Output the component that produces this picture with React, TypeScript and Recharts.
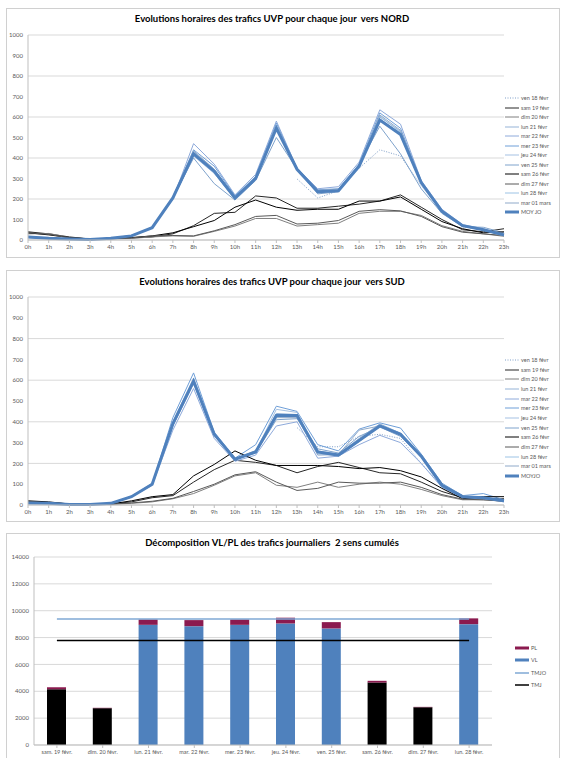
import React from "react";
import { LineChart, Line, XAxis, YAxis, CartesianGrid, ComposedChart, Bar, Cell } from "recharts";

const HOURS = ["0h", "1h", "2h", "3h", "4h", "5h", "6h", "7h", "8h", "9h", "10h", "11h", "12h", "13h", "14h", "15h", "16h", "17h", "18h", "19h", "20h", "21h", "22h", "23h"];

const SERIES_KEYS = ["ven18", "sam19", "dim20", "lun21", "mar22", "mer23", "jeu24", "ven25", "sam26", "dim27", "lun28", "mar01", "moy"];
const SERIES_LABELS = ["ven 18 févr", "sam 19 févr", "dim 20 févr", "lun 21 févr", "mar 22 févr", "mer 23 févr", "jeu 24 févr", "ven 25 févr", "sam 26 févr", "dim 27 févr", "lun 28 févr", "mar 01 mars", "MOY JO"];
const SERIES_COLORS = ["#7f9fc8", "#262626", "#7f7f7f", "#95b3d7", "#8eaadb", "#6f9fd8", "#a5c1e3", "#7fa3cc", "#000000", "#595959", "#9cc3e5", "#8fa9c9", "#4f81bd"];

// vers NORD
const N_VEN18 = [null, null, null, null, null, null, null, null, null, null, null, null, null, 298, 205, 240, 350, 440, 410, 265, 140, 65, 50, 25];
const N_SAM19 = [40, 30, 15, 5, 8, 10, 15, 30, 70, 130, 135, 215, 205, 155, 155, 165, 175, 190, 220, 160, 100, 50, 40, 55];
const N_DIM20 = [30, 32, 12, 5, 5, 8, 15, 20, 18, 42, 68, 105, 105, 68, 75, 82, 130, 140, 140, 120, 70, 42, 30, 18];
const N_LUN21 = [12, 6, 4, 3, 8, 22, 62, 210, 430, 345, 210, 305, 550, 345, 240, 245, 365, 600, 530, 285, 140, 72, 48, 22];
const N_MAR22 = [14, 7, 5, 3, 9, 20, 58, 200, 470, 370, 220, 320, 580, 350, 250, 260, 380, 635, 565, 290, 150, 75, 55, 25];
const N_MER23 = [16, 8, 5, 3, 8, 18, 60, 205, 440, 360, 215, 310, 570, 348, 245, 250, 370, 620, 545, 285, 145, 72, 52, 28];
const N_JEU24 = [15, 9, 5, 4, 8, 20, 62, 200, 410, 325, 200, 295, 540, 342, 230, 240, 355, 590, 520, 280, 138, 70, 50, 24];
const N_VEN25 = [18, 10, 6, 3, 7, 20, 60, 205, 400, 275, 195, 290, 500, 345, 225, 235, 370, 555, 420, 250, 130, 65, 62, 35];
const N_SAM26 = [35, 25, 12, 5, 8, 12, 20, 35, 65, 95, 160, 195, 160, 145, 150, 150, 190, 190, 210, 150, 90, 55, 35, 40];
const N_DIM27 = [35, 28, 10, 5, 6, 10, 20, 22, 20, 45, 75, 115, 120, 78, 82, 95, 140, 148, 142, 115, 65, 38, 30, 22];
const N_LUN28 = [14, 8, 5, 3, 8, 21, 58, 205, 425, 340, 205, 300, 550, 345, 240, 245, 360, 605, 525, 275, 140, 70, 50, 22];
const N_MAR01 = [15, 8, 4, 3, 9, 22, 60, 210, 435, 345, 210, 305, 560, 348, 242, 248, 362, 610, 535, 282, 142, 70, 48, 20];
const N_MOY = [15, 8, 5, 3, 8, 20, 60, 205, 420, 335, 205, 300, 545, 345, 235, 240, 360, 585, 515, 280, 140, 70, 50, 25];

// vers SUD
const S_VEN18 = [null, null, null, null, null, null, null, null, null, null, null, null, null, 372, 280, 280, 330, 340, 320, 200, 90, 40, 35, 20];
const S_SAM19 = [15, 12, 5, 3, 5, 15, 35, 45, 110, 170, 215, 205, 190, 155, 185, 205, 180, 155, 150, 110, 65, 35, 30, 30];
const S_DIM20 = [12, 10, 4, 3, 3, 8, 15, 30, 55, 95, 140, 155, 95, 85, 110, 85, 100, 110, 100, 75, 45, 25, 25, 20];
const S_LUN21 = [10, 8, 3, 2, 8, 42, 105, 400, 610, 345, 215, 260, 440, 435, 260, 245, 320, 390, 345, 240, 98, 42, 35, 20];
const S_MAR22 = [8, 7, 3, 2, 7, 38, 95, 360, 560, 320, 210, 240, 380, 400, 225, 235, 290, 335, 300, 200, 85, 35, 30, 15];
const S_MER23 = [11, 8, 3, 2, 8, 40, 100, 420, 635, 350, 225, 290, 475, 450, 290, 260, 365, 395, 370, 245, 105, 45, 55, 25];
const S_JEU24 = [10, 9, 4, 2, 8, 40, 100, 390, 600, 340, 220, 255, 460, 445, 245, 240, 305, 380, 340, 235, 95, 42, 35, 20];
const S_VEN25 = [12, 8, 3, 3, 9, 42, 102, 380, 585, 335, 218, 250, 410, 415, 270, 250, 330, 375, 330, 230, 92, 38, 38, 22];
const S_SAM26 = [20, 15, 5, 3, 5, 20, 40, 50, 140, 195, 260, 215, 190, 190, 190, 185, 175, 180, 165, 135, 80, 30, 40, 40];
const S_DIM27 = [15, 12, 5, 3, 4, 10, 18, 32, 65, 100, 145, 160, 110, 70, 80, 110, 105, 105, 110, 85, 50, 28, 25, 18];
const S_LUN28 = [9, 8, 3, 2, 8, 40, 98, 385, 590, 340, 222, 258, 430, 425, 250, 238, 305, 385, 345, 235, 95, 40, 32, 18];
const S_MAR01 = [10, 7, 3, 2, 7, 38, 100, 395, 600, 345, 220, 262, 420, 420, 240, 242, 360, 380, 345, 238, 100, 44, 34, 20];
const S_MOY = [10, 8, 3, 2, 8, 40, 100, 390, 595, 340, 220, 255, 430, 430, 255, 240, 310, 380, 340, 235, 95, 40, 35, 20];

const NORD = [N_VEN18, N_SAM19, N_DIM20, N_LUN21, N_MAR22, N_MER23, N_JEU24, N_VEN25, N_SAM26, N_DIM27, N_LUN28, N_MAR01, N_MOY];
const SUD = [S_VEN18, S_SAM19, S_DIM20, S_LUN21, S_MAR22, S_MER23, S_JEU24, S_VEN25, S_SAM26, S_DIM27, S_LUN28, S_MAR01, S_MOY];

// décomposition VL/PL
const JOURS = ["sam. 19 févr.", "dim. 20 févr.", "lun. 21 févr.", "mar. 22 févr.", "mer. 23 févr.", "jeu. 24 févr.", "ven. 25 févr.", "sam. 26 févr.", "dim. 27 févr.", "lun. 28 févr."];
const VL = [4150, 2740, 8950, 8850, 8950, 9050, 8680, 4650, 2810, 9000];
const PL = [150, 30, 400, 450, 400, 430, 470, 130, 30, 430];
const WEEKEND = [true, true, false, false, false, false, false, true, true, false];
const TMJO = [9380, 9380, 9380, 9380, 9380, 9380, 9380, 9380, 9380, 9380];
const TMJ = [7780, 7780, 7780, 7780, 7780, 7780, 7780, 7780, 7780, 7780];

const FONT = "Lato, 'Open Sans', sans-serif";
const GRID = "#d9d9d9";
const TXT = "#595959";

const hourRows = (series: (number | null)[][]) =>
  HOURS.map((h, i) => {
    const row: Record<string, string | number | null> = { h };
    SERIES_KEYS.forEach((k, j) => (row[k] = series[j][i]));
    return row;
  });

const barRows = JOURS.map((j, i) => ({ j, vl: VL[i], pl: PL[i], tmjo: TMJO[i], tmj: TMJ[i] }));

const tick = { fontSize: 6, fill: TXT, fontFamily: FONT };

function Box({ top, height }: { top: number; height: number }) {
  return (
    <div style={{ position: "absolute", left: 6, top, width: 554, height, border: "1px solid #d0d0d0", boxSizing: "border-box" }} />
  );
}

function Title({ top, text }: { top: number; text: string }) {
  return (
    <div style={{ position: "absolute", left: 6, top, width: 532, textAlign: "center", fontFamily: FONT, fontWeight: 700, fontSize: 9.5, color: "#000", whiteSpace: "pre" }}>
      {text}
    </div>
  );
}

type Item = { label: string; color: string; width: number; dash?: string };

function SideLegend({ items, left, top, step }: { items: Item[]; left: number; top: number; step: number }) {
  return (
    <div style={{ position: "absolute", left, top }}>
      {items.map((it, i) => (
        <div key={i} style={{ position: "absolute", left: 0, top: i * step, height: 8, display: "flex", alignItems: "center", whiteSpace: "nowrap" }}>
          <svg width={14} height={8}>
            <line x1={0} y1={4} x2={14} y2={4} stroke={it.color} strokeWidth={it.width} strokeDasharray={it.dash} />
          </svg>
          <span style={{ marginLeft: 2, fontFamily: FONT, fontSize: 5.5, color: TXT }}>{it.label}</span>
        </div>
      ))}
    </div>
  );
}

const lineItems = (moyLabel: string): Item[] =>
  SERIES_LABELS.map((l, i) => ({
    label: i === 12 ? moyLabel : l,
    color: SERIES_COLORS[i],
    width: i === 12 ? 3 : 1,
    dash: i === 0 ? "1 1.5" : undefined,
  }));

function HourChart({ top, height, series }: { top: number; height: number; series: (number | null)[][] }) {
  const data = hourRows(series);
  return (
    <div style={{ position: "absolute", left: 6, top }}>
      <LineChart width={554} height={height} data={data} margin={{ top: 27, right: 56, bottom: 3, left: 0 }}>
        <CartesianGrid vertical={false} stroke={GRID} />
        <XAxis dataKey="h" tick={tick} stroke="#bfbfbf" tickSize={3} height={14} interval={0} />
        <YAxis domain={[0, 1000]} ticks={[0, 100, 200, 300, 400, 500, 600, 700, 800, 900, 1000]} tick={tick} width={22} tickSize={3} tickLine={false} stroke="#bfbfbf" />
        {SERIES_KEYS.map((k, i) => (
          <Line
            key={k}
            dataKey={k}
            stroke={SERIES_COLORS[i]}
            strokeWidth={i === 12 ? 3 : 1}
            strokeDasharray={i === 0 ? "1 1.5" : undefined}
            dot={false}
            isAnimationActive={false}
          />
        ))}
      </LineChart>
    </div>
  );
}

export default function App() {
  return (
    <div style={{ position: "absolute", left: 0, top: 0, width: 566, height: 758, overflow: "hidden", background: "#fff" }}>
      <Box top={8} height={250} />
      <Title top={13} text="Evolutions horaires des trafics UVP pour chaque jour  vers NORD" />
      <HourChart top={8} height={249} series={NORD} />
      <SideLegend items={lineItems("MOY JO")} left={505} top={94} step={9.5} />

      <Box top={270} height={252} />
      <Title top={276} text="Evolutions horaires des trafics UVP pour chaque jour  vers SUD" />
      <HourChart top={270} height={252} series={SUD} />
      <SideLegend items={lineItems("MOYJO")} left={505} top={356} step={9.67} />

      <Box top={533} height={240} />
      <Title top={537} text="Décomposition VL/PL des trafics journaliers  2 sens cumulés" />
      <div style={{ position: "absolute", left: 6, top: 533 }}>
        <ComposedChart width={554} height={235} data={barRows} margin={{ top: 24, right: 68, bottom: 9, left: 0 }}>
          <CartesianGrid vertical={false} stroke={GRID} />
          <XAxis dataKey="j" tick={{ ...tick, fontSize: 5.5 }} stroke="#bfbfbf" tickSize={3} height={14} interval={0} />
          <YAxis domain={[0, 14000]} ticks={[0, 2000, 4000, 6000, 8000, 10000, 12000, 14000]} tick={tick} width={28} tickSize={3} tickLine={false} stroke="#bfbfbf" />
          <Bar dataKey="vl" stackId="a" barSize={19} isAnimationActive={false}>
            {barRows.map((r, i) => (
              <Cell key={r.j} fill={WEEKEND[i] ? "#000000" : "#4f81bd"} />
            ))}
          </Bar>
          <Bar dataKey="pl" stackId="a" fill="#8b1a4f" barSize={19} isAnimationActive={false} />
          <Line dataKey="tmjo" stroke="#7fa9d4" strokeWidth={1.5} dot={false} isAnimationActive={false} />
          <Line dataKey="tmj" stroke="#000000" strokeWidth={1.5} dot={false} isAnimationActive={false} />
        </ComposedChart>
      </div>
      <SideLegend
        items={[
          { label: "PL", color: "#8b1a4f", width: 3 },
          { label: "VL", color: "#4f81bd", width: 3 },
          { label: "TMJO", color: "#7fa9d4", width: 1.5 },
          { label: "TMJ", color: "#000000", width: 1.5 },
        ]}
        left={515}
        top={644}
        step={12.3}
      />
    </div>
  );
}
